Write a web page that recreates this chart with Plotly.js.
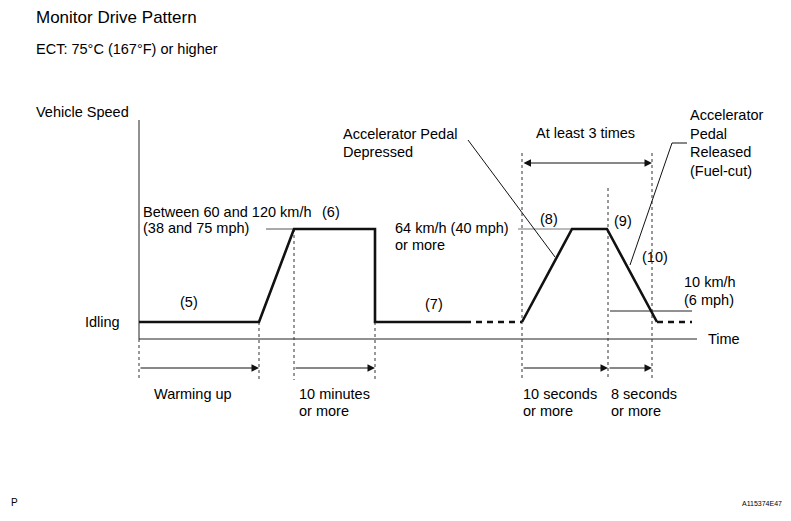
<!DOCTYPE html>
<html>
<head>
<meta charset="utf-8">
<script src="https://cdn.plot.ly/plotly-3.0.1.min.js"></script>
<style>html,body{margin:0;padding:0;background:#fff;}#chart{width:791px;height:521px;}</style>
</head>
<body>
<div id="chart"></div>
<script>
// Schematic units: time along x (0 = speed axis), speed along y (0 = time axis)
const IDLE = 17;          // idling speed level
const HIGH = 110;         // cruising level (60-120 km/h / 64 km/h or more)
const LOW10 = 28;         // 10 km/h level

// Drive pattern profile (solid parts)
const profile1T = [0, 120, 155, 236, 236, 326];
const profile1V = [IDLE, IDLE, HIGH, HIGH, IDLE, IDLE];
const profile2T = [383, 433, 468, 518];
const profile2V = [IDLE, HIGH, HIGH, IDLE];
// Dashed idle continuations
const dash1T = [326, 383];
const dash1V = [IDLE, IDLE];
const dash2T = [518, 553];
const dash2V = [IDLE, IDLE];

// Vertical dashed guide lines: time, top, bottom
const guideT = [0, 120, 155, 236, 383, 469, 513];
const guideTop = [0, IDLE, HIGH, IDLE, 186, 151, 186];
const guideBottom = -41;

// Duration arrows: from, to
const durFrom = [0, 155, 383, 469];
const durTo = [120, 236, 469, 513];
const durY = -29;
const durLabels = [["Warming up"], ["10 minutes", "or more"], ["10 seconds", "or more"], ["8 seconds", "or more"]];
const durLabelT = [13, 158, 382, 470];

const FONT = "Liberation Sans, Arial, sans-serif";
const FS = 14.5;
const traces = [];
const line = (x, y, w, dash, color) => ({
  x: x, y: y, type: "scatter", mode: "lines", hoverinfo: "skip", showlegend: false,
  line: {color: color || "#111", width: w, dash: dash || "solid"}
});

// axes
traces.push(line([0, 0], [0, 219], 1, null, "#222"));
traces.push(line([0, 558], [0, 0], 1, null, "#222"));

// guides
guideT.forEach((t, i) => traces.push(line([t, t], [guideTop[i], guideBottom], 1, "3px,3px", "#333")));

// leader lines
traces.push(line([127, 155], [HIGH, HIGH], 1, null, "#555"));
traces.push(line([379, 433], [HIGH, HIGH], 1, null, "#777"));
traces.push(line([329, 416], [199, 82], 1, null, "#111"));
traces.push(line([548, 533, 491], [196, 196, 74], 1, null, "#111"));
traces.push(line([471, 553], [LOW10, LOW10], 1, null, "#222"));

// profile
traces.push(line(profile1T, profile1V, 2.6));
traces.push(line(profile2T, profile2V, 2.6));
traces.push(line(dash1T, dash1V, 2.6, "6px,5px"));
traces.push(line(dash2T, dash2V, 2.6, "6px,5px"));

const ann = [];
const txt = (x, y, text, opts) => Object.assign({
  x: x, y: y, xref: "x", yref: "y", text: text, showarrow: false,
  xanchor: "left", yanchor: "middle", font: {family: FONT, size: FS, color: "#000"}
}, opts || {});

// duration arrows
durFrom.forEach((f, i) => {
  ann.push({x: durTo[i], y: durY, ax: f, ay: durY, xref: "x", yref: "y", axref: "x", ayref: "y",
    showarrow: true, arrowhead: 2, arrowsize: 1.5, arrowwidth: 1, arrowcolor: "#111", standoff: 0, text: ""});
  durLabels[i].forEach((s, j) => ann.push(txt(durLabelT[i], -55 - j * 17, s)));
});
// at least 3 times arrow
ann.push({x: 513, y: 176, ax: 383, ay: 176, xref: "x", yref: "y", axref: "x", ayref: "y",
  showarrow: true, arrowhead: 2, arrowside: "end+start", arrowsize: 1.5, arrowwidth: 1, arrowcolor: "#111", standoff: 0, text: ""});

// texts
ann.push(txt(-105, 322, "Monitor Drive Pattern", {font: {family: FONT, size: 17, color: "#000"}}));
ann.push(txt(-105, 290, "ECT: 75°C (167°F) or higher"));
ann.push(txt(-105, 227, "Vehicle Speed"));
ann.push(txt(-17, IDLE, "Idling", {xanchor: "right"}));
ann.push(txt(567, 0, "Time"));
ann.push(txt(50, 37, "(5)", {xanchor: "center"}));
ann.push(txt(2, 127, "Between 60 and 120 km/h"));
ann.push(txt(192, 127, "(6)", {xanchor: "center"}));
ann.push(txt(2, 111, "(38 and 75 mph)"));
ann.push(txt(295, 35, "(7)", {xanchor: "center"}));
ann.push(txt(254, 111, "64 km/h (40 mph)"));
ann.push(txt(254, 94, "or more"));
ann.push(txt(202, 205, "Accelerator Pedal"));
ann.push(txt(202, 187, "Depressed"));
ann.push(txt(446, 206, "At least 3 times", {xanchor: "center"}));
ann.push(txt(549, 224, "Accelerator"));
ann.push(txt(549, 205, "Pedal"));
ann.push(txt(549, 187, "Released"));
ann.push(txt(549, 168, "(Fuel-cut)"));
ann.push(txt(410, 120, "(8)", {xanchor: "center"}));
ann.push(txt(484, 118, "(9)", {xanchor: "center"}));
ann.push(txt(516, 82, "(10)", {xanchor: "center"}));
ann.push(txt(543, 57, "10 km/h"));
ann.push(txt(543, 39, "(6 mph)"));
ann.push(txt(-130, -163, "P", {font: {family: FONT, size: 10, color: "#000"}}));
ann.push(txt(645, -164, "A115374E47", {xanchor: "right", font: {family: FONT, size: 7, color: "#000"}}));

const layout = {
  width: 791, height: 521,
  margin: {l: 0, r: 0, t: 0, b: 0, pad: 0},
  paper_bgcolor: "#fff", plot_bgcolor: "#fff",
  xaxis: {range: [-139, 652], visible: false, fixedrange: true},
  yaxis: {range: [-182, 339], visible: false, fixedrange: true},
  annotations: ann,
  showlegend: false
};
Plotly.newPlot("chart", traces, layout, {displayModeBar: false, staticPlot: true});
</script>
</body>
</html>
